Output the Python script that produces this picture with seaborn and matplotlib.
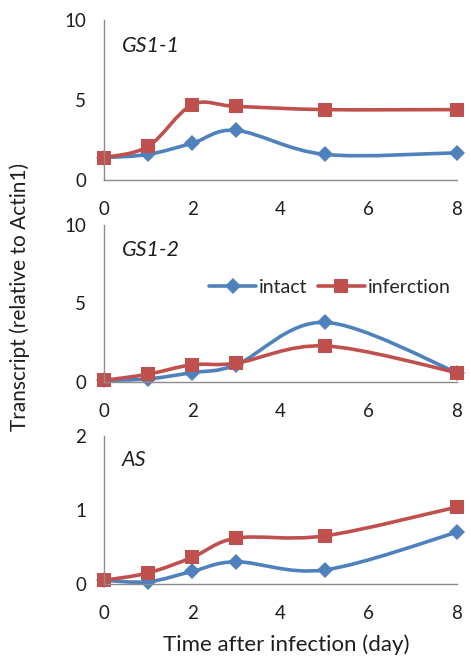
import numpy as np
import pandas as pd
import matplotlib
matplotlib.use("Agg")
import matplotlib.pyplot as plt
from matplotlib.path import Path
from matplotlib.patches import PathPatch
from matplotlib.lines import Line2D
import seaborn as sns

# ---- data ----
days = [0, 1, 2, 3, 5, 8]
gs11_intact = [1.4, 1.6, 2.3, 3.1, 1.6, 1.7]
gs11_infection = [1.4, 2.1, 4.7, 4.6, 4.4, 4.4]
gs12_intact = [0.1, 0.2, 0.6, 1.1, 3.8, 0.6]
gs12_infection = [0.1, 0.5, 1.1, 1.2, 2.3, 0.6]
as_intact = [0.05, 0.03, 0.17, 0.3, 0.19, 0.7]
as_infection = [0.05, 0.15, 0.36, 0.62, 0.65, 1.04]
panel_titles = ["GS1-1", "GS1-2", "AS"]
panel_ymax = [10, 10, 2]
panel_yticks = [[0, 5, 10], [0, 5, 10], [0, 1, 2]]
xticks = [0, 2, 4, 6, 8]
series_names = ["intact", "inferction"]

BLUE = "#4F81BD"
RED = "#C0504D"
TXT = "#1E1E1E"

sns.set_theme(style="white")
plt.rcParams["font.family"] = ["Lato", "DejaVu Sans"]

W, H = 471, 656
fig = plt.figure(figsize=(W / 100, H / 100), dpi=100)


def ax_at(left, right, top, bottom):
    return fig.add_axes([left / W, 1 - bottom / H, (right - left) / W, (bottom - top) / H])


axes = [ax_at(104, 457, 20, 180), ax_at(104, 457, 225, 382), ax_at(104, 457, 436, 584)]
panels = [(gs11_intact, gs11_infection), (gs12_intact, gs12_infection), (as_intact, as_infection)]


def smooth_path(xs, ys):
    # Excel-like smoothed line rendered as cubic Bezier segments through the data points
    P = np.column_stack([xs, ys]).astype(float)
    n = len(P)
    verts = [P[0]]
    codes = [Path.MOVETO]
    for i in range(n - 1):
        p0 = P[i - 1] if i > 0 else P[i]
        p1, p2 = P[i], P[i + 1]
        p3 = P[i + 2] if i + 2 < n else P[i + 1]
        c1 = p1 + (p2 - p0) / 6.0
        c2 = p2 - (p3 - p1) / 6.0
        verts += [c1, c2, p2]
        codes += [Path.CURVE4] * 3
    return Path(verts, codes)


for k, (ax, (intact, infection)) in enumerate(zip(axes, panels)):
    df = pd.DataFrame({"day": days + days,
                       "value": intact + infection,
                       "series": [series_names[0]] * len(days) + [series_names[1]] * len(days)})
    for name, vals, color, marker, ms in [(series_names[0], intact, BLUE, "D", 8),
                                          (series_names[1], infection, RED, "s", 10)]:
        patch = PathPatch(smooth_path(days, vals), facecolor="none", edgecolor=color,
                          lw=2.6, transform=ax.transData, clip_on=False, capstyle="round",
                          joinstyle="round")
        ax.add_patch(patch)
        sub = df[df["series"] == name]
        sns.lineplot(data=sub, x="day", y="value", ax=ax, color=color, marker=marker,
                     markersize=ms, markeredgewidth=0, linewidth=0, clip_on=False,
                     legend=False)
    ax.set_xlim(0, 8)
    ax.set_ylim(0, panel_ymax[k])
    ax.set_xticks(xticks)
    ax.set_yticks(panel_yticks[k])
    ax.set_xticklabels([str(t) for t in xticks])
    ax.set_yticklabels([str(t) for t in panel_yticks[k]])
    ax.set_xlabel("")
    ax.set_ylabel("")
    for s in ["top", "right"]:
        ax.spines[s].set_visible(False)
    for s in ["left", "bottom"]:
        ax.spines[s].set_color("#8C8C8C")
        ax.spines[s].set_linewidth(1.0)
    ax.tick_params(axis="x", length=0, pad=15, labelsize=13.5, labelcolor=TXT)
    ax.tick_params(axis="y", length=0, pad=13, labelsize=13.5, labelcolor=TXT)
    ax.text(0.05, 0.84, panel_titles[k], transform=ax.transAxes, fontsize=15.5,
            style="italic", color=TXT, ha="left", va="center")
    ax.set_facecolor("none")

handles = [Line2D([], [], color=BLUE, lw=2.6, marker="D", markersize=8, markeredgewidth=0),
           Line2D([], [], color=RED, lw=2.6, marker="s", markersize=10, markeredgewidth=0)]
axes[1].legend(handles, series_names, loc="center", bbox_to_anchor=(0.64, 0.605),
               ncol=2, frameon=False, fontsize=14, handlelength=2.4,
               handletextpad=0.15, columnspacing=0.55, borderpad=0)

fig.text(286 / W, 1 - 645 / H, "Time after infection (day)", ha="center", va="center",
         fontsize=16, color=TXT)
fig.text(20 / W, 1 - 297 / H, "Transcript (relative to Actin1)", ha="center", va="center",
         rotation=90, fontsize=15, color=TXT)

fig.savefig("out.png", dpi=100, facecolor="white")
